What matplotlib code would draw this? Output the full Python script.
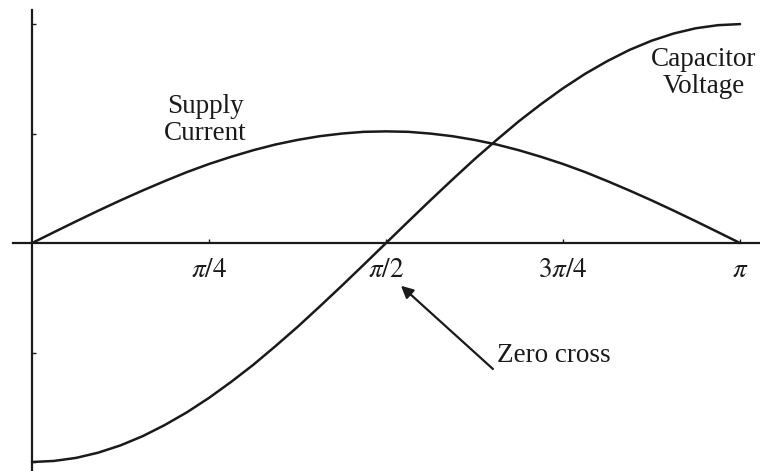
import numpy as np
import matplotlib.pyplot as plt

plt.rcParams['font.family'] = 'Liberation Serif'
plt.rcParams['mathtext.fontset'] = 'stix'

# angle samples, every pi/32 from 0 to pi
angle = np.linspace(0, np.pi, 33)
# values (axis unit = peak capacitor voltage)
capacitor_voltage = [-1.000, -0.995, -0.981, -0.957, -0.924, -0.882, -0.831, -0.773, -0.707,
                     -0.634, -0.556, -0.471, -0.383, -0.290, -0.195, -0.098, 0.000,
                     0.098, 0.195, 0.290, 0.383, 0.471, 0.556, 0.634, 0.707,
                     0.773, 0.831, 0.882, 0.924, 0.957, 0.981, 0.995, 1.000]
supply_current = [0.000, 0.050, 0.0995, 0.148, 0.195, 0.240, 0.283, 0.324, 0.361,
                  0.394, 0.424, 0.450, 0.471, 0.488, 0.500, 0.508, 0.510,
                  0.508, 0.500, 0.488, 0.471, 0.450, 0.424, 0.394, 0.361,
                  0.324, 0.283, 0.240, 0.195, 0.148, 0.0995, 0.050, 0.000]

xtick_pos = [np.pi / 4, np.pi / 2, 3 * np.pi / 4, np.pi]
xtick_labels = [r'$\pi/4$', r'$\pi/2$', r'$3\pi/4$', r'$\pi$']
ytick_pos = [-1.0, -0.5, 0.5, 1.0]

ink = '#1a1a1a'

fig = plt.figure(figsize=(7.6, 4.71), dpi=100)
ax = fig.add_axes([0, 0, 1, 1])

ax.plot(angle, capacitor_voltage, color=ink, lw=1.8, solid_capstyle='round')
ax.plot(angle, supply_current, color=ink, lw=1.8, solid_capstyle='round')

ax.set_xlim(-0.142, 3.230)
ax.set_ylim(-1.041, 1.110)

# axes crossing at the origin
for side in ['top', 'right']:
    ax.spines[side].set_visible(False)
ax.spines['left'].set_position(('data', 0))
ax.spines['bottom'].set_position(('data', 0))
ax.spines['left'].set_bounds(-1.041, 1.064)
ax.spines['bottom'].set_bounds(-0.084, 3.230)
for side in ['left', 'bottom']:
    ax.spines[side].set_linewidth(1.6)
    ax.spines[side].set_color(ink)

ax.set_xticks(xtick_pos)
ax.set_xticklabels(xtick_labels)
ax.set_yticks(ytick_pos)
ax.set_yticklabels([])
ax.tick_params(axis='x', direction='in', length=3, width=1, color=ink,
               labelsize=19.5, labelcolor=ink, pad=11)
ax.tick_params(axis='y', direction='in', length=3, width=1, color=ink)

ax.text(0.768, 0.560, 'Supply\nCurrent', fontsize=19.5, color=ink,
        ha='center', va='center', multialignment='center', linespacing=1.1)
ax.text(2.980, 0.775, 'Capacitor\nVoltage', fontsize=19.5, color=ink,
        ha='center', va='center', multialignment='center', linespacing=1.1)

ax.annotate('', xy=(1.637, -0.195), xytext=(2.045, -0.575),
            arrowprops=dict(arrowstyle='-|>', color=ink, lw=1.6,
                            mutation_scale=18, shrinkA=0, shrinkB=0))
ax.text(2.063, -0.515, 'Zero cross', fontsize=19.5, color=ink,
        ha='left', va='center')

fig.savefig('out.png', dpi=100, facecolor='white')
